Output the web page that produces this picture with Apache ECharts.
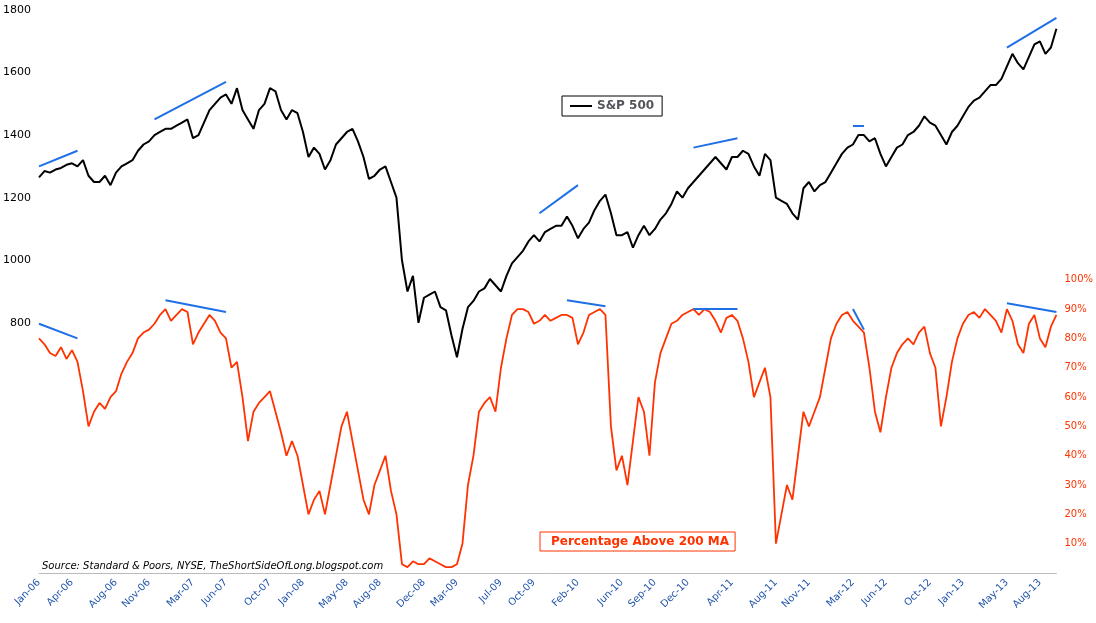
<!DOCTYPE html><html><head><meta charset="utf-8">
<script src="https://cdn.jsdelivr.net/npm/echarts@6/dist/echarts.min.js"></script>
<style>html,body{margin:0;padding:0;background:#fff}#c{width:1096px;height:623px}</style></head><body><div id="c"></div>
<script>
const spx=[1265,1285,1280,1290,1295,1305,1310,1300,1320,1270,1250,1250,1270,1240,1280,1300,1310,1320,1350,1370,1380,1400,1410,1420,
1420,1430,1440,1450,1390,1400,1440,1480,1500,1520,1530,1500,1550,1480,1450,1420,1480,1500,1550,1540,1480,1450,1480,1470,
1410,1330,1360,1340,1290,1320,1370,1390,1410,1420,1380,1330,1260,1270,1290,1300,1250,1200,1000,900,950,800,880,890,
900,850,840,760,690,780,850,870,900,910,940,920,900,950,990,1010,1030,1060,1080,1060,1090,1100,1110,1110,
1140,1110,1070,1100,1120,1160,1190,1210,1150,1080,1080,1090,1040,1080,1110,1080,1100,1130,1150,1180,1220,1200,1230,1250,
1270,1290,1310,1330,1310,1290,1330,1330,1350,1340,1300,1270,1340,1320,1200,1190,1180,1150,1130,1230,1250,1220,1240,1250,
1280,1310,1340,1360,1370,1400,1400,1380,1390,1340,1300,1330,1360,1370,1400,1410,1430,1460,1440,1430,1400,1370,1410,1430,
1460,1490,1510,1520,1540,1560,1560,1580,1620,1660,1630,1610,1650,1690,1700,1660,1680,1740];
const pct=[80,78,75,74,77,73,76,72,62,50,55,58,56,60,62,68,72,75,80,82,83,85,88,90,
86,88,90,89,78,82,85,88,86,82,80,70,72,60,45,55,58,60,62,55,48,40,45,40,
30,20,25,28,20,30,40,50,55,45,35,25,20,30,35,40,28,20,3,2,4,3,3,5,
4,3,2,2,3,10,30,40,55,58,60,55,70,80,88,90,90,89,85,86,88,86,87,88,
88,87,78,82,88,89,90,88,50,35,40,30,45,60,55,40,65,75,80,85,86,88,89,90,
88,90,89,86,82,87,88,86,80,72,60,65,70,60,10,20,30,25,40,55,50,55,60,70,
80,85,88,89,86,84,82,70,55,48,60,70,75,78,80,78,82,84,75,70,50,60,72,80,
85,88,89,87,90,88,86,82,90,86,78,75,85,88,80,77,84,88];
const tickMonths=["2006-01","2006-04","2006-08","2006-11","2007-03","2007-06","2007-10","2008-01","2008-05","2008-08","2008-12","2009-03","2009-07","2009-10","2010-02","2010-06","2010-09","2010-12","2011-04","2011-08","2011-11","2012-03","2012-06","2012-10","2013-01","2013-05","2013-08"];
const mon=["Jan","Feb","Mar","Apr","May","Jun","Jul","Aug","Sep","Oct","Nov","Dec"];
const cats=[];
for(let y=2006;y<=2013;y++)for(let m=1;m<=12;m++){for(const d of ["01","15"]){if(cats.length<spx.length)cats.push(y+"-"+String(m).padStart(2,"0")+"-"+d);}}
const spxLines=[[["2006-01-01",1300],["2006-04-15",1350]],[["2006-11-15",1450],["2007-06-01",1570]],[["2009-10-15",1150],["2010-02-01",1240]],[["2010-12-15",1360],["2011-04-15",1390]],[["2012-03-01",1430],["2012-04-01",1430]],[["2013-05-01",1680],["2013-09-15",1775]]];
const pctLines=[[["2006-01-01",85],["2006-04-15",80]],[["2006-12-15",93],["2007-06-01",89]],[["2010-01-01",93],["2010-04-15",91]],[["2010-12-15",90],["2011-04-15",90]],[["2012-03-01",90],["2012-04-01",83]],[["2013-05-01",92],["2013-09-15",89]]];
const ml=arr=>({symbol:'none',silent:true,label:{show:false},lineStyle:{color:'#1f6fe6',width:2,type:'solid'},data:arr.map(p=>[{coord:p[0]},{coord:p[1]}])});
const ch=echarts.init(document.getElementById('c'));
ch.setOption({animation:false,
grid:{left:38,right:38,top:10,bottom:50},
xAxis:{type:'category',data:cats,boundaryGap:false,axisLine:{lineStyle:{color:'#bbb'}},axisTick:{show:false},
 axisLabel:{rotate:45,fontSize:10,color:'#2255aa',fontFamily:'DejaVu Sans',interval:(i,v)=>v.endsWith("-01")&&tickMonths.includes(v.slice(0,7)),
 formatter:v=>mon[+v.slice(5,7)-1]+"-"+v.slice(2,4)},splitLine:{show:false}},
yAxis:[{type:'value',min:0,max:1800,interval:200,splitLine:{show:false},axisLine:{show:false},axisTick:{show:false},
 axisLabel:{fontSize:11,color:'#000',fontFamily:'DejaVu Sans',formatter:v=>v>=800?v:''}},
 {type:'value',min:0,max:192,interval:10,position:'right',splitLine:{show:false},axisLine:{show:false},axisTick:{show:false},
 axisLabel:{fontSize:10,color:'#ff3300',fontFamily:'DejaVu Sans',formatter:v=>(v>=10&&v<=100)?v+'%':''}}],
legend:[{data:['S&P 500'],left:562,top:96,itemWidth:22,itemHeight:2,icon:'rect',borderColor:'#000',borderWidth:1,padding:[4,8],borderRadius:0,textStyle:{fontSize:12,fontWeight:'bold',fontFamily:'DejaVu Sans'}},
 {data:['Percentage Above 200 MA'],left:540,top:532,icon:'none',itemWidth:0,borderColor:'#ff3300',borderWidth:1,padding:[3,6],borderRadius:0,textStyle:{fontSize:12,fontWeight:'bold',color:'#ff3300',fontFamily:'DejaVu Sans'}}],
graphic:[{type:'text',left:42,top:561,style:{text:'Source: Standard & Poors, NYSE, TheShortSideOfLong.blogspot.com',fontSize:10,fontStyle:'italic',fontFamily:'DejaVu Sans',fill:'#000'}}],
series:[{name:'S&P 500',type:'line',data:spx,yAxisIndex:0,showSymbol:false,lineStyle:{color:'#000',width:2},itemStyle:{color:'#000'},markLine:ml(spxLines)},
 {name:'Percentage Above 200 MA',type:'line',data:pct,yAxisIndex:1,showSymbol:false,lineStyle:{color:'#ff3300',width:1.8},itemStyle:{color:'#ff3300'},markLine:ml(pctLines)}]
});
</script></body></html>
